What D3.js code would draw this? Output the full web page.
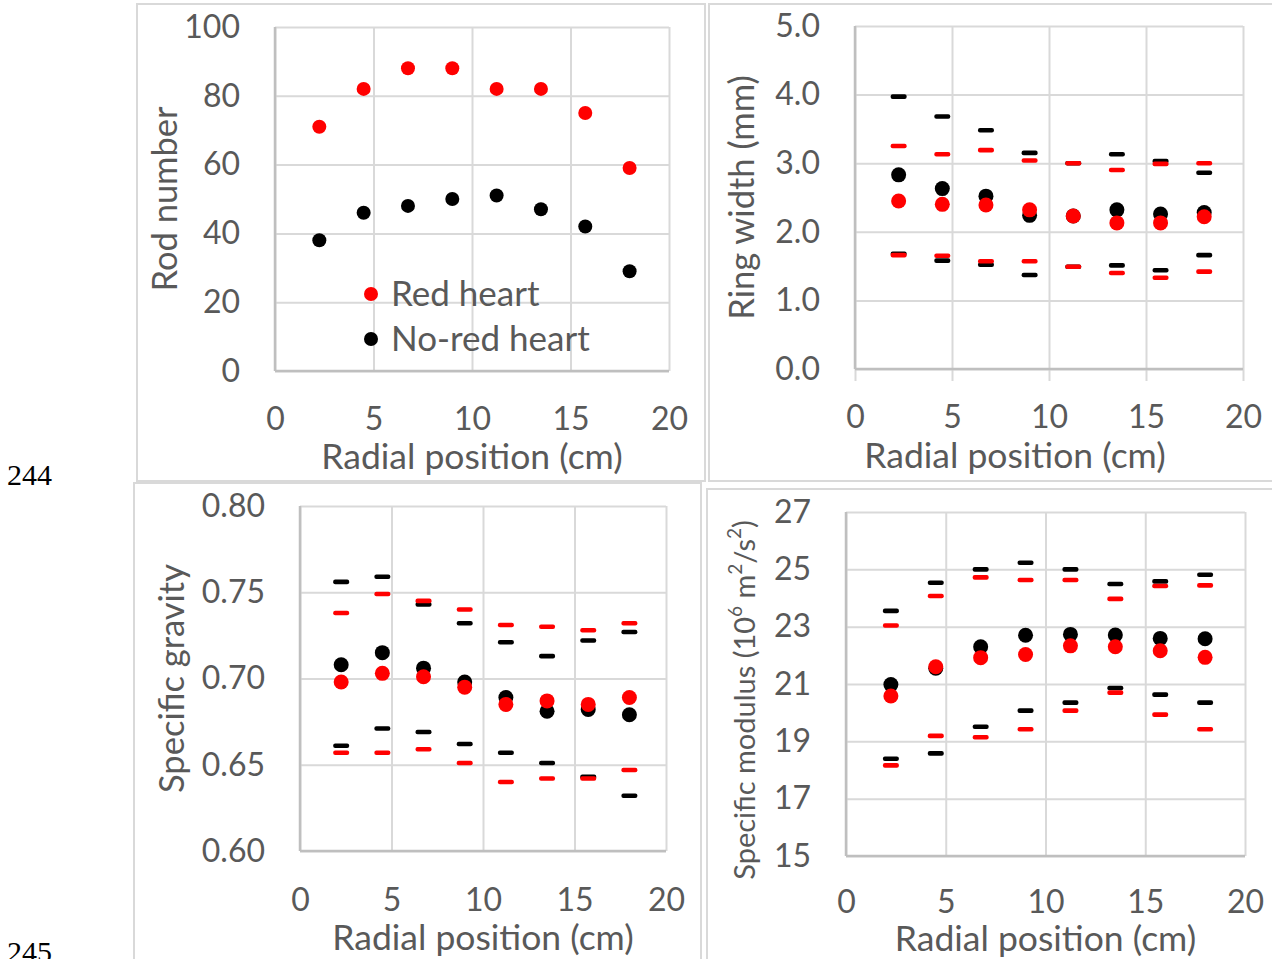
<!DOCTYPE html>
<html>
<head>
<meta charset="utf-8">
<script src="https://cdn.jsdelivr.net/npm/d3@7"></script>
<style>
  body { margin: 0; background: #fff; }
  text { font-family: Lato, "Open Sans", sans-serif; fill: #595959; }
</style>
</head>
<body>
<div id="chart"></div>
<script>
// radial positions shared by every panel
var radialPos = [2.25, 4.5, 6.75, 9, 11.25, 13.5, 15.75, 18];
var xTicks = [0, 5, 10, 15, 20];

// rod number
var rodRed   = [71, 82, 88, 88, 82, 82, 75, 59];
var rodBlack = [38, 46, 48, 50, 51, 47, 42, 29];
var rodTicks = [0, 20, 40, 60, 80, 100];

// ring width (mm): mean, upper and lower dash
var ringRed     = [2.45, 2.40, 2.39, 2.32, 2.23, 2.13, 2.13, 2.22];
var ringRedHi   = [3.25, 3.13, 3.19, 3.04, 3.00, 2.90, 2.99, 3.00];
var ringRedLo   = [1.66, 1.65, 1.57, 1.57, 1.49, 1.40, 1.33, 1.42];
var ringBlack   = [2.83, 2.63, 2.52, 2.24, 2.23, 2.32, 2.26, 2.28];
var ringBlackHi = [3.97, 3.68, 3.48, 3.15, 3.00, 3.13, 3.03, 2.86];
var ringBlackLo = [1.68, 1.58, 1.52, 1.37, 1.49, 1.51, 1.44, 1.66];
var ringTicks = [0, 1, 2, 3, 4, 5];

// specific gravity
var sgRed     = [0.698, 0.703, 0.701, 0.695, 0.685, 0.687, 0.685, 0.689];
var sgRedHi   = [0.738, 0.749, 0.745, 0.740, 0.731, 0.730, 0.728, 0.732];
var sgRedLo   = [0.657, 0.657, 0.659, 0.651, 0.640, 0.642, 0.642, 0.647];
var sgBlack   = [0.708, 0.715, 0.706, 0.698, 0.689, 0.681, 0.682, 0.679];
var sgBlackHi = [0.756, 0.759, 0.743, 0.732, 0.721, 0.713, 0.722, 0.727];
var sgBlackLo = [0.661, 0.671, 0.669, 0.662, 0.657, 0.651, 0.643, 0.632];
var sgTicks = [0.60, 0.65, 0.70, 0.75, 0.80];

// specific modulus (10^6 m2/s2)
var modRed     = [20.58, 21.60, 21.92, 22.03, 22.33, 22.30, 22.16, 21.93];
var modRedHi   = [23.04, 24.07, 24.72, 24.63, 24.63, 23.97, 24.42, 24.44];
var modRedLo   = [18.16, 19.19, 19.14, 19.42, 20.07, 20.70, 19.93, 19.42];
var modBlack   = [20.98, 21.55, 22.30, 22.70, 22.73, 22.71, 22.59, 22.58];
var modBlackHi = [23.55, 24.53, 25.00, 25.23, 25.00, 24.49, 24.58, 24.81];
var modBlackLo = [18.39, 18.58, 19.51, 20.07, 20.35, 20.86, 20.63, 20.35];
var modTicks = [15, 17, 19, 21, 23, 25, 27];

var W = 1272, H = 959;
var svg = d3.select("#chart").append("svg")
    .attr("width", W)
    .attr("height", H);

var gridColor = "#d9d9d9", axisColor = "#bfbfbf";

var panels = [
  {box: [137, 4, 705, 481], plot: [275, 669, 27, 371], yTicks: rodTicks, fmt: d3.format("d"),
   title: "Rod number", titleX: 165, r: 7, outerTick: false, xtDx: 0, xtDy: 86, pad: 36,
   series: [{c: "black", mean: rodBlack}, {c: "red", mean: rodRed}]},
  {box: [709, 4, 1276, 481], plot: [855, 1243, 26, 369], yTicks: ringTicks, fmt: d3.format(".1f"),
   title: "Ring width (mm)", titleX: 742, r: 7.5, outerTick: true, xtDx: -34, xtDy: 87, pad: 36,
   series: [{c: "black", mean: ringBlack, hi: ringBlackHi, lo: ringBlackLo},
            {c: "red", mean: ringRed, hi: ringRedHi, lo: ringRedLo}]},
  {box: [134, 483, 701, 963], plot: [300, 666, 506, 851], yTicks: sgTicks, fmt: d3.format(".2f"),
   title: "Specific gravity", titleX: 172, r: 7.5, outerTick: false, xtDx: 0, xtDy: 87, pad: 37,
   series: [{c: "black", mean: sgBlack, hi: sgBlackHi, lo: sgBlackLo},
            {c: "red", mean: sgRed, hi: sgRedHi, lo: sgRedLo}]},
  {box: [707, 489, 1276, 963], plot: [846, 1245, 512, 856], yTicks: modTicks, fmt: d3.format("d"),
   title: null, titleX: 745, r: 7.5, outerTick: false, xtDx: 0, xtDy: 83, pad: 34,
   series: [{c: "black", mean: modBlack, hi: modBlackHi, lo: modBlackLo},
            {c: "red", mean: modRed, hi: modRedHi, lo: modRedLo}]}
];

panels.forEach(function(p, i) {
  var g = svg.append("g");
  var b = p.box;
  g.append("rect")
    .attr("x", b[0]).attr("y", b[1])
    .attr("width", b[2] - b[0]).attr("height", b[3] - b[1])
    .attr("fill", "none").attr("stroke", gridColor).attr("stroke-width", 2);

  var x0 = p.plot[0], x1 = p.plot[1], y0 = p.plot[2], y1 = p.plot[3];
  var x = d3.scaleLinear().domain([0, 20]).range([x0, x1]);
  var y = d3.scaleLinear().domain(d3.extent(p.yTicks)).range([y1, y0]);

  // x axis with vertical gridlines
  var xa = g.append("g")
    .attr("transform", "translate(0," + y1 + ")")
    .call(d3.axisBottom(x).tickValues(xTicks).tickSizeInner(-(y1 - y0)).tickSizeOuter(0).tickPadding(p.pad));
  xa.select(".domain").remove();
  xa.selectAll("line").attr("stroke", gridColor).attr("stroke-width", 2);
  xa.selectAll("text").attr("font-size", 32).attr("fill", "#595959").attr("font-family", "Lato");
  if (p.outerTick) {
    xa.selectAll(".tick").append("line")
      .attr("y1", 0).attr("y2", 12)
      .attr("stroke", gridColor).attr("stroke-width", 2);
  }

  // y axis with horizontal gridlines
  var ya = g.append("g")
    .attr("transform", "translate(" + x0 + ",0)")
    .call(d3.axisLeft(y).tickValues(p.yTicks).tickFormat(p.fmt).tickSizeInner(-(x1 - x0)).tickSizeOuter(0).tickPadding(35));
  ya.select(".domain").remove();
  ya.selectAll("line").attr("stroke", gridColor).attr("stroke-width", 2);
  ya.selectAll("text").attr("font-size", 32).attr("fill", "#595959").attr("font-family", "Lato");

  // axis lines
  g.append("line").attr("x1", x0).attr("x2", x1).attr("y1", y1).attr("y2", y1)
    .attr("stroke", axisColor).attr("stroke-width", 2.5);
  g.append("line").attr("x1", x0).attr("x2", x0).attr("y1", y0).attr("y2", y1)
    .attr("stroke", axisColor).attr("stroke-width", 2.5);

  // x title
  g.append("text")
    .attr("x", (x0 + x1) / 2 + p.xtDx).attr("y", y1 + p.xtDy)
    .attr("text-anchor", "middle").attr("dy", "0.35em")
    .attr("font-size", 35.5)
    .text("Radial position (cm)");

  // y title
  var yt = g.append("text")
    .attr("transform", "translate(" + p.titleX + "," + ((y0 + y1) / 2 + (i === 3 ? 16 : 0)) + ") rotate(-90)")
    .attr("text-anchor", "middle").attr("dy", "0.35em")
    .attr("font-size", i === 3 ? 29 : 34.5);
  if (p.title) {
    yt.text(p.title);
  } else {
    yt.append("tspan").text("Specific modulus (10");
    yt.append("tspan").attr("font-size", 19).attr("dy", "-0.7em").text("6");
    yt.append("tspan").attr("dy", "0.45em").text(" m");
    yt.append("tspan").attr("font-size", 19).attr("dy", "-0.7em").text("2");
    yt.append("tspan").attr("dy", "0.45em").text("/s");
    yt.append("tspan").attr("font-size", 19).attr("dy", "-0.7em").text("2");
    yt.append("tspan").attr("dy", "0.45em").text(")");
  }

  // marks
  p.series.forEach(function(s) {
    ["hi", "lo"].forEach(function(k) {
      if (!s[k]) return;
      g.selectAll(null).data(s[k]).enter().append("rect")
        .attr("x", function(d, j) { return x(radialPos[j]) - 8; })
        .attr("y", function(d) { return y(d) - 2.3; })
        .attr("width", 16).attr("height", 4.6).attr("rx", 2)
        .attr("fill", s.c === "red" ? "#ff0000" : "#000");
    });
  });
  p.series.forEach(function(s) {
    g.selectAll(null).data(s.mean).enter().append("circle")
      .attr("cx", function(d, j) { return x(radialPos[j]); })
      .attr("cy", function(d) { return y(d); })
      .attr("r", p.r)
      .attr("fill", s.c === "red" ? "#ff0000" : "#000");
  });

  // legend in first panel
  if (i === 0) {
    var leg = [{c: "#ff0000", t: "Red heart", y: 294}, {c: "#000", t: "No-red heart", y: 339}];
    leg.forEach(function(l) {
      g.append("circle").attr("cx", 371).attr("cy", l.y).attr("r", 7).attr("fill", l.c);
      g.append("text").attr("x", 391).attr("y", l.y).attr("dy", "0.35em")
        .attr("font-size", 35).text(l.t);
    });
  }
});

// page line numbers
svg.append("text").attr("x", 7).attr("y", 485)
  .style("font-family", "'Liberation Serif', serif").style("fill", "#000")
  .attr("font-size", 30).text("244");
svg.append("text").attr("x", 7).attr("y", 962)
  .style("font-family", "'Liberation Serif', serif").style("fill", "#000")
  .attr("font-size", 30).text("245");
</script>
</body>
</html>
